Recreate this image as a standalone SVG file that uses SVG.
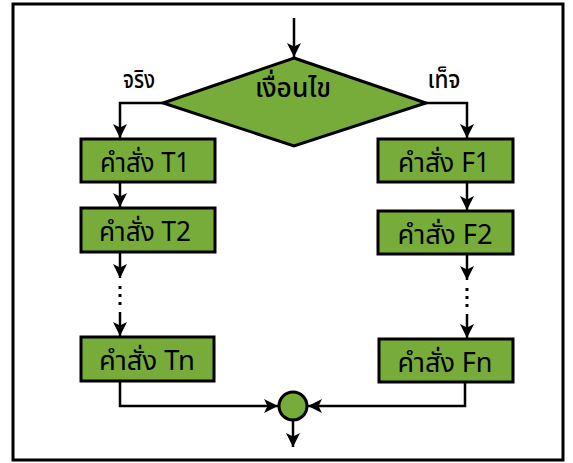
<svg xmlns="http://www.w3.org/2000/svg" width="573" height="463" viewBox="0 0 573 463">
<style>
.node{fill:#77ac3b;stroke:#000;stroke-width:3}
.lbl{font-family:"Noto Sans Thai","Noto Sans","DejaVu Sans",sans-serif;font-size:27px;fill:#000;text-anchor:middle}
.edge{fill:none;stroke:#000;stroke-width:2.5}
.dots{fill:none;stroke:#000;stroke-width:3;stroke-dasharray:3 5}
</style>
<defs>
<marker id="ah" viewBox="0 0 14 14" refX="14" refY="7" markerWidth="14" markerHeight="14" markerUnits="userSpaceOnUse" orient="auto">
<path d="M0,0 L14,7 L0,14 L3.5,7 Z" fill="#000"/>
</marker>
</defs>
<rect x="13" y="4" width="550" height="456" fill="#fff" stroke="#000" stroke-width="3"/>
<g id="connectors">
<path class="edge" d="M294,18 V57" marker-end="url(#ah)"/>
<path class="edge" d="M163,103 H120 V138" marker-end="url(#ah)"/>
<path class="edge" d="M426,103 H467 V138" marker-end="url(#ah)"/>
<path class="edge" d="M120,182 V207" marker-end="url(#ah)"/>
<path class="edge" d="M467,182 V210" marker-end="url(#ah)"/>
<path class="edge" d="M120,252 V278" marker-end="url(#ah)"/>
<path class="dots" d="M120,286 V306"/>
<path class="edge" d="M120,312 V336" marker-end="url(#ah)"/>
<path class="edge" d="M467,254 V280" marker-end="url(#ah)"/>
<path class="dots" d="M467,288 V308"/>
<path class="edge" d="M467,314 V338" marker-end="url(#ah)"/>
<path class="edge" d="M120,381 V406 H278" marker-end="url(#ah)"/>
<path class="edge" d="M465,382 V406 H308" marker-end="url(#ah)"/>
<path class="edge" d="M293,420 V447" marker-end="url(#ah)"/>
</g>
<g id="cond">
<polygon class="node" points="294,58 426,103 294,146 163,103"/>
<text class="lbl" x="293" y="97" style="font-size:27px;font-weight:500" textLength="76" lengthAdjust="spacingAndGlyphs">เงื่อนไข</text>
</g>
<g id="lbl-true"><text class="lbl" x="139" y="88" style="font-size:24px;font-weight:500" textLength="32" lengthAdjust="spacingAndGlyphs">จริง</text></g>
<g id="lbl-false"><text class="lbl" x="444" y="88" style="font-size:24px;font-weight:500" textLength="33" lengthAdjust="spacingAndGlyphs">เท็จ</text></g>
<g id="T1"><rect class="node" x="81" y="139" width="134" height="43"/><text class="lbl" x="145" y="172" textLength="90" lengthAdjust="spacingAndGlyphs">คำสั่ง T1</text></g>
<g id="T2"><rect class="node" x="81" y="208" width="134" height="44"/><text class="lbl" x="145" y="241" textLength="92" lengthAdjust="spacingAndGlyphs">คำสั่ง T2</text></g>
<g id="Tn"><rect class="node" x="81" y="337" width="133" height="44"/><text class="lbl" x="147" y="370" textLength="96" lengthAdjust="spacingAndGlyphs">คำสั่ง Tn</text></g>
<g id="F1"><rect class="node" x="378" y="139" width="135" height="43"/><text class="lbl" x="444" y="172" textLength="92" lengthAdjust="spacingAndGlyphs">คำสั่ง F1</text></g>
<g id="F2"><rect class="node" x="378" y="211" width="135" height="43"/><text class="lbl" x="445" y="244" textLength="95" lengthAdjust="spacingAndGlyphs">คำสั่ง F2</text></g>
<g id="Fn"><rect class="node" x="379" y="339" width="134" height="43"/><text class="lbl" x="445" y="372" textLength="95" lengthAdjust="spacingAndGlyphs">คำสั่ง Fn</text></g>
<g id="join"><circle class="node" cx="293" cy="406" r="14"/></g>
</svg>
